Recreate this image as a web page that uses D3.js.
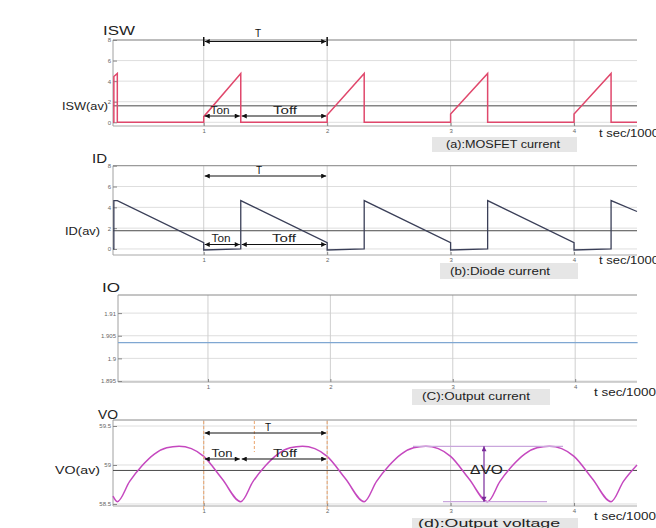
<!DOCTYPE html>
<html>
<head>
<meta charset="utf-8">
<script src="https://cdn.jsdelivr.net/npm/d3@7"></script>
<style>
  html, body { margin: 0; padding: 0; background: #ffffff; }
  svg { display: block; }
  text { font-family: "Liberation Sans", Arial, sans-serif; }
</style>
</head>
<body>
<script>
// ---------------- DATA ----------------
const tTicks = [1, 2, 3, 4];

const iswTicks = [0, 2, 4, 6, 8];
const iswT = [0.265, 0.272, 0.272, 0.3, 0.3, 1, 1, 1.3, 1.3, 2, 2, 2.3, 2.3, 3, 3, 3.3, 3.3, 4, 4, 4.3, 4.3, 4.51];
const iswV = [0, 0, 4.45, 4.75, 0, 0, 0.55, 4.75, 0, 0, 0.7, 4.75, 0, 0, 0.8, 4.75, 0, 0, 0.8, 4.75, 0, 0];
const iswAvg = 1.6;

const idTicks = [0, 2, 4, 6, 8];
const idT = [0.265, 0.272, 0.272, 0.3, 1, 1, 1.3, 1.3, 2, 2, 2.3, 2.3, 3, 3, 3.3, 3.3, 4, 4, 4.3, 4.3, 4.51];
const idV = [0, 0, 4.65, 4.65, 0.6, -0.1, 0, 4.65, 0.6, -0.1, 0, 4.65, 0.6, -0.1, 0, 4.65, 0.6, -0.1, 0, 4.65, 3.6];
const idAvg = 1.75;

const ioTicks = [1.895, 1.9, 1.905, 1.91];
const ioT = [0.265, 4.51];
const ioV = [1.9035, 1.9035];

const voTicks = [58.5, 59, 59.5];
const voT = [0.265, 0.3, 0.4, 0.5, 0.6, 0.7, 0.8, 0.9, 1.0, 1.15,
             1.3, 1.4, 1.5, 1.6, 1.7, 1.8, 1.9, 2.0, 2.15,
             2.3, 2.4, 2.5, 2.6, 2.7, 2.8, 2.9, 3.0, 3.15,
             3.3, 3.4, 3.5, 3.6, 3.7, 3.8, 3.9, 4.0, 4.15,
             4.3, 4.4, 4.51];
const voV = [58.6, 58.53, 58.79, 58.99, 59.14, 59.22, 59.24, 59.21, 59.11, 58.82,
             58.53, 58.79, 58.99, 59.14, 59.22, 59.24, 59.21, 59.11, 58.82,
             58.53, 58.79, 58.99, 59.14, 59.22, 59.24, 59.21, 59.11, 58.82,
             58.53, 58.79, 58.99, 59.14, 59.22, 59.24, 59.21, 59.11, 58.82,
             58.53, 58.79, 59.0];
const voAvg = 58.93;
const voMax = 59.24, voMin = 58.53;

// ---------------- DRAWING ----------------
const svg = d3.select("body").append("svg").attr("width", 656).attr("height", 528);

const defs = svg.append("defs");
function marker(id, color) {
  defs.append("marker").attr("id", id)
    .attr("viewBox", "0 0 10 10").attr("refX", 10).attr("refY", 5)
    .attr("markerWidth", 6).attr("markerHeight", 5)
    .attr("markerUnits", "userSpaceOnUse")
    .attr("orient", "auto-start-reverse")
    .append("path").attr("d", "M0,0 L10,5 L0,10 Z").attr("fill", color);
}
marker("ah", "#111");
marker("ahp", "#7a2a9a");

function txt(g, x, y, s, size, len, anchor, color) {
  const t = g.append("text").attr("x", x).attr("y", y).text(s)
    .attr("font-size", size).attr("fill", color || "#222")
    .attr("text-anchor", anchor || "start");
  if (len) t.attr("textLength", len).attr("lengthAdjust", "spacingAndGlyphs");
  return t;
}

function panel(p) {
  const x = d3.scaleLinear().domain(p.xDomain).range([p.left, p.right]);
  const y = d3.scaleLinear().domain(p.yDomain).range([p.bottom, p.top]);
  const g = svg.append("g");
  // grid
  g.selectAll(null).data(p.yTicks).join("line")
    .attr("x1", p.left).attr("x2", p.right)
    .attr("y1", d => y(d)).attr("y2", d => y(d))
    .attr("stroke", "#dedede").attr("stroke-width", 1);
  g.selectAll(null).data(tTicks).join("line")
    .attr("x1", d => x(d)).attr("x2", d => x(d))
    .attr("y1", p.top).attr("y2", p.bottom)
    .attr("stroke", "#cfcfcf").attr("stroke-width", 1);
  // frame
  g.append("line").attr("x1", p.left).attr("x2", p.right).attr("y1", p.top).attr("y2", p.top)
    .attr("stroke", "#8a8a8a");
  g.append("line").attr("x1", p.left).attr("x2", p.right).attr("y1", p.bottom).attr("y2", p.bottom)
    .attr("stroke", "#a8a8a8");
  g.append("line").attr("x1", p.left).attr("x2", p.left).attr("y1", p.top).attr("y2", p.bottom)
    .attr("stroke", "#a0a0a0");
  // axes
  const ya = g.append("g").attr("transform", `translate(${p.left},0)`)
    .call(d3.axisLeft(y).tickValues(p.yTicks).tickSize(-4).tickPadding(2).tickFormat(p.fmt));
  const xa = g.append("g").attr("transform", `translate(0,${p.bottom})`)
    .call(d3.axisBottom(x).tickValues(tTicks).tickSize(-3).tickPadding(3).tickFormat(d3.format("d")));
  [ya, xa].forEach(a => {
    a.select(".domain").remove();
    a.selectAll(".tick line").attr("stroke", "#888");
    a.selectAll(".tick text").attr("font-size", 6).attr("fill", "#666")
      .attr("font-family", "Liberation Sans, Arial, sans-serif");
  });
  return { x, y, g };
}

// ---- (a) MOSFET current ----
const A = panel({ xDomain: [0.265, 4.51], left: 113, right: 637, top: 40, bottom: 126,
  yDomain: [-0.36, 8], yTicks: iswTicks, fmt: d3.format("d") });
A.g.append("line").attr("x1", 113).attr("x2", 637).attr("y1", A.y(iswAvg)).attr("y2", A.y(iswAvg))
  .attr("stroke", "#4a4a4a").attr("stroke-width", 1);
A.g.append("path").datum(d3.zip(iswT, iswV))
  .attr("d", d3.line().x(d => A.x(d[0])).y(d => A.y(d[1])))
  .attr("fill", "none").attr("stroke", "#e0486c").attr("stroke-width", 1.5);

// ---- (b) Diode current ----
const B = panel({ xDomain: [0.265, 4.51], left: 113, right: 637, top: 165.7, bottom: 255,
  yDomain: [-0.58, 8], yTicks: idTicks, fmt: d3.format("d") });
B.g.append("line").attr("x1", 113).attr("x2", 637).attr("y1", B.y(idAvg)).attr("y2", B.y(idAvg))
  .attr("stroke", "#4a4a4a").attr("stroke-width", 1);
B.g.append("path").datum(d3.zip(idT, idV))
  .attr("d", d3.line().x(d => B.x(d[0])).y(d => B.y(d[1])))
  .attr("fill", "none").attr("stroke", "#3a3f58").attr("stroke-width", 1.3);

// ---- (c) Output current ----
const C = panel({ xDomain: [0.265, 4.505], left: 118, right: 637, top: 295, bottom: 382,
  yDomain: [1.89478, 1.914], yTicks: ioTicks, fmt: d3.format("") });
C.g.append("path").datum(d3.zip(ioT, ioV))
  .attr("d", d3.line().x(d => C.x(d[0])).y(d => C.y(d[1])))
  .attr("fill", "none").attr("stroke", "#7fa7d2").attr("stroke-width", 1.2);

// ---- (d) Output voltage ----
const D = panel({ xDomain: [0.265, 4.51], left: 113, right: 637, top: 420, bottom: 506,
  yDomain: [58.474, 59.577], yTicks: voTicks, fmt: d3.format("") });
D.g.append("line").attr("x1", 113).attr("x2", 637).attr("y1", D.y(voAvg)).attr("y2", D.y(voAvg))
  .attr("stroke", "#4a4a4a").attr("stroke-width", 1);
D.g.append("path").datum(d3.zip(voT, voV))
  .attr("d", d3.line().curve(d3.curveMonotoneX).x(d => D.x(d[0])).y(d => D.y(d[1])))
  .attr("fill", "none").attr("stroke", "#c548bf").attr("stroke-width", 1.5);

// ---------------- ANNOTATIONS ----------------
const ann = svg.append("g");
function arrow(x1, x2, y, both) {
  const l = ann.append("line").attr("x1", x1).attr("x2", x2).attr("y1", y).attr("y2", y)
    .attr("stroke", "#111").attr("stroke-width", 1.2).attr("marker-end", "url(#ah)");
  if (both !== false) l.attr("marker-start", "url(#ah)");
  return l;
}

// (a)
arrow(A.x(1) + 1, A.x(2) - 1, 41.5);
ann.append("line").attr("x1", A.x(1)).attr("x2", A.x(1)).attr("y1", 37).attr("y2", 46).attr("stroke", "#111").attr("stroke-width", 1.5);
ann.append("line").attr("x1", A.x(2)).attr("x2", A.x(2)).attr("y1", 37).attr("y2", 46).attr("stroke", "#111").attr("stroke-width", 1.5);
txt(ann, 258, 37, "T", 10, null, "middle", "#111");
arrow(A.x(1) + 1, A.x(1.3) - 1, 116);
arrow(A.x(1.3) + 1, A.x(2) - 1, 116);
txt(ann, 220, 114, "Ton", 10, 19, "middle");
txt(ann, 285, 114, "Toff", 10, 24, "middle");
txt(ann, 103, 34.5, "ISW", 12.5, 32);
txt(ann, 62, 110, "ISW(av)", 10.5, 46);

// (b)
arrow(B.x(1) + 1, B.x(2) - 1, 176);
txt(ann, 259, 174, "T", 10, null, "middle", "#111");
arrow(B.x(1) + 1, B.x(1.3) - 1, 244.5);
arrow(B.x(1.3) + 1, B.x(2) - 1, 244.5);
txt(ann, 221, 242, "Ton", 10, 19, "middle");
txt(ann, 284, 242, "Toff", 10, 24, "middle");
txt(ann, 92, 162.5, "ID", 12, 15);
txt(ann, 65, 235, "ID(av)", 10.5, 35);

// (c)
txt(ann, 102, 292, "IO", 12, 18);

// (d)
const orange = "#eba46c";
[1, 2].forEach(t => {
  ann.append("line").attr("x1", D.x(t)).attr("x2", D.x(t)).attr("y1", 421).attr("y2", 511)
    .attr("stroke", orange).attr("stroke-width", 1).attr("stroke-dasharray", "3,2");
});
ann.append("line").attr("x1", D.x(1.41)).attr("x2", D.x(1.41)).attr("y1", 421).attr("y2", 452)
  .attr("stroke", orange).attr("stroke-width", 1).attr("stroke-dasharray", "3,2");
arrow(D.x(1) + 1, D.x(2) - 1, 433);
txt(ann, 268, 431, "T", 10, null, "middle", "#111");
arrow(D.x(1) + 1, D.x(1.3) - 1, 459);
arrow(D.x(1.3) + 1, D.x(2) - 1, 459);
txt(ann, 222, 457, "Ton", 10, 21, "middle");
txt(ann, 285, 457, "Toff", 10, 24, "middle");
txt(ann, 98, 419, "VO", 12, 20);
txt(ann, 55, 474, "VO(av)", 10.5, 45);

// delta VO
ann.append("line").attr("x1", 413).attr("x2", 563).attr("y1", D.y(voMax)).attr("y2", D.y(voMax))
  .attr("stroke", "#c9a6dc").attr("stroke-width", 1.2);
ann.append("line").attr("x1", 443).attr("x2", 547).attr("y1", D.y(voMin)).attr("y2", D.y(voMin))
  .attr("stroke", "#c9a6dc").attr("stroke-width", 1.2);
ann.append("line").attr("x1", 484).attr("x2", 484).attr("y1", D.y(voMax)).attr("y2", D.y(voMin))
  .attr("stroke", "#7a2a9a").attr("stroke-width", 1.2)
  .attr("marker-start", "url(#ahp)").attr("marker-end", "url(#ahp)");
txt(ann, 470, 474, "\u0394VO", 13, 33);

// caption boxes
function caption(x, y, w, h, s, tx, ty, len) {
  ann.append("rect").attr("x", x).attr("y", y).attr("width", w).attr("height", h).attr("fill", "#e6e6e6");
  txt(ann, tx, ty, s, 10, len, "start", "#222");
}
caption(432, 137, 145, 15, "(a):MOSFET current", 446, 148, 114);
caption(440, 263, 138, 16, "(b):Diode current", 450, 275, 100);
caption(412, 389, 138, 16, "(C):Output current", 422, 400, 108);
caption(412, 518, 166, 12, "(d):Output voltage", 418, 527, 142);

// axis unit labels
txt(ann, 599, 137, "t sec/1000", 10, 60);
txt(ann, 599, 264, "t sec/1000", 10, 60);
txt(ann, 594, 396, "t sec/1000", 10, 62);
txt(ann, 594, 520, "t sec/1000", 10, 62);
</script>
</body>
</html>
